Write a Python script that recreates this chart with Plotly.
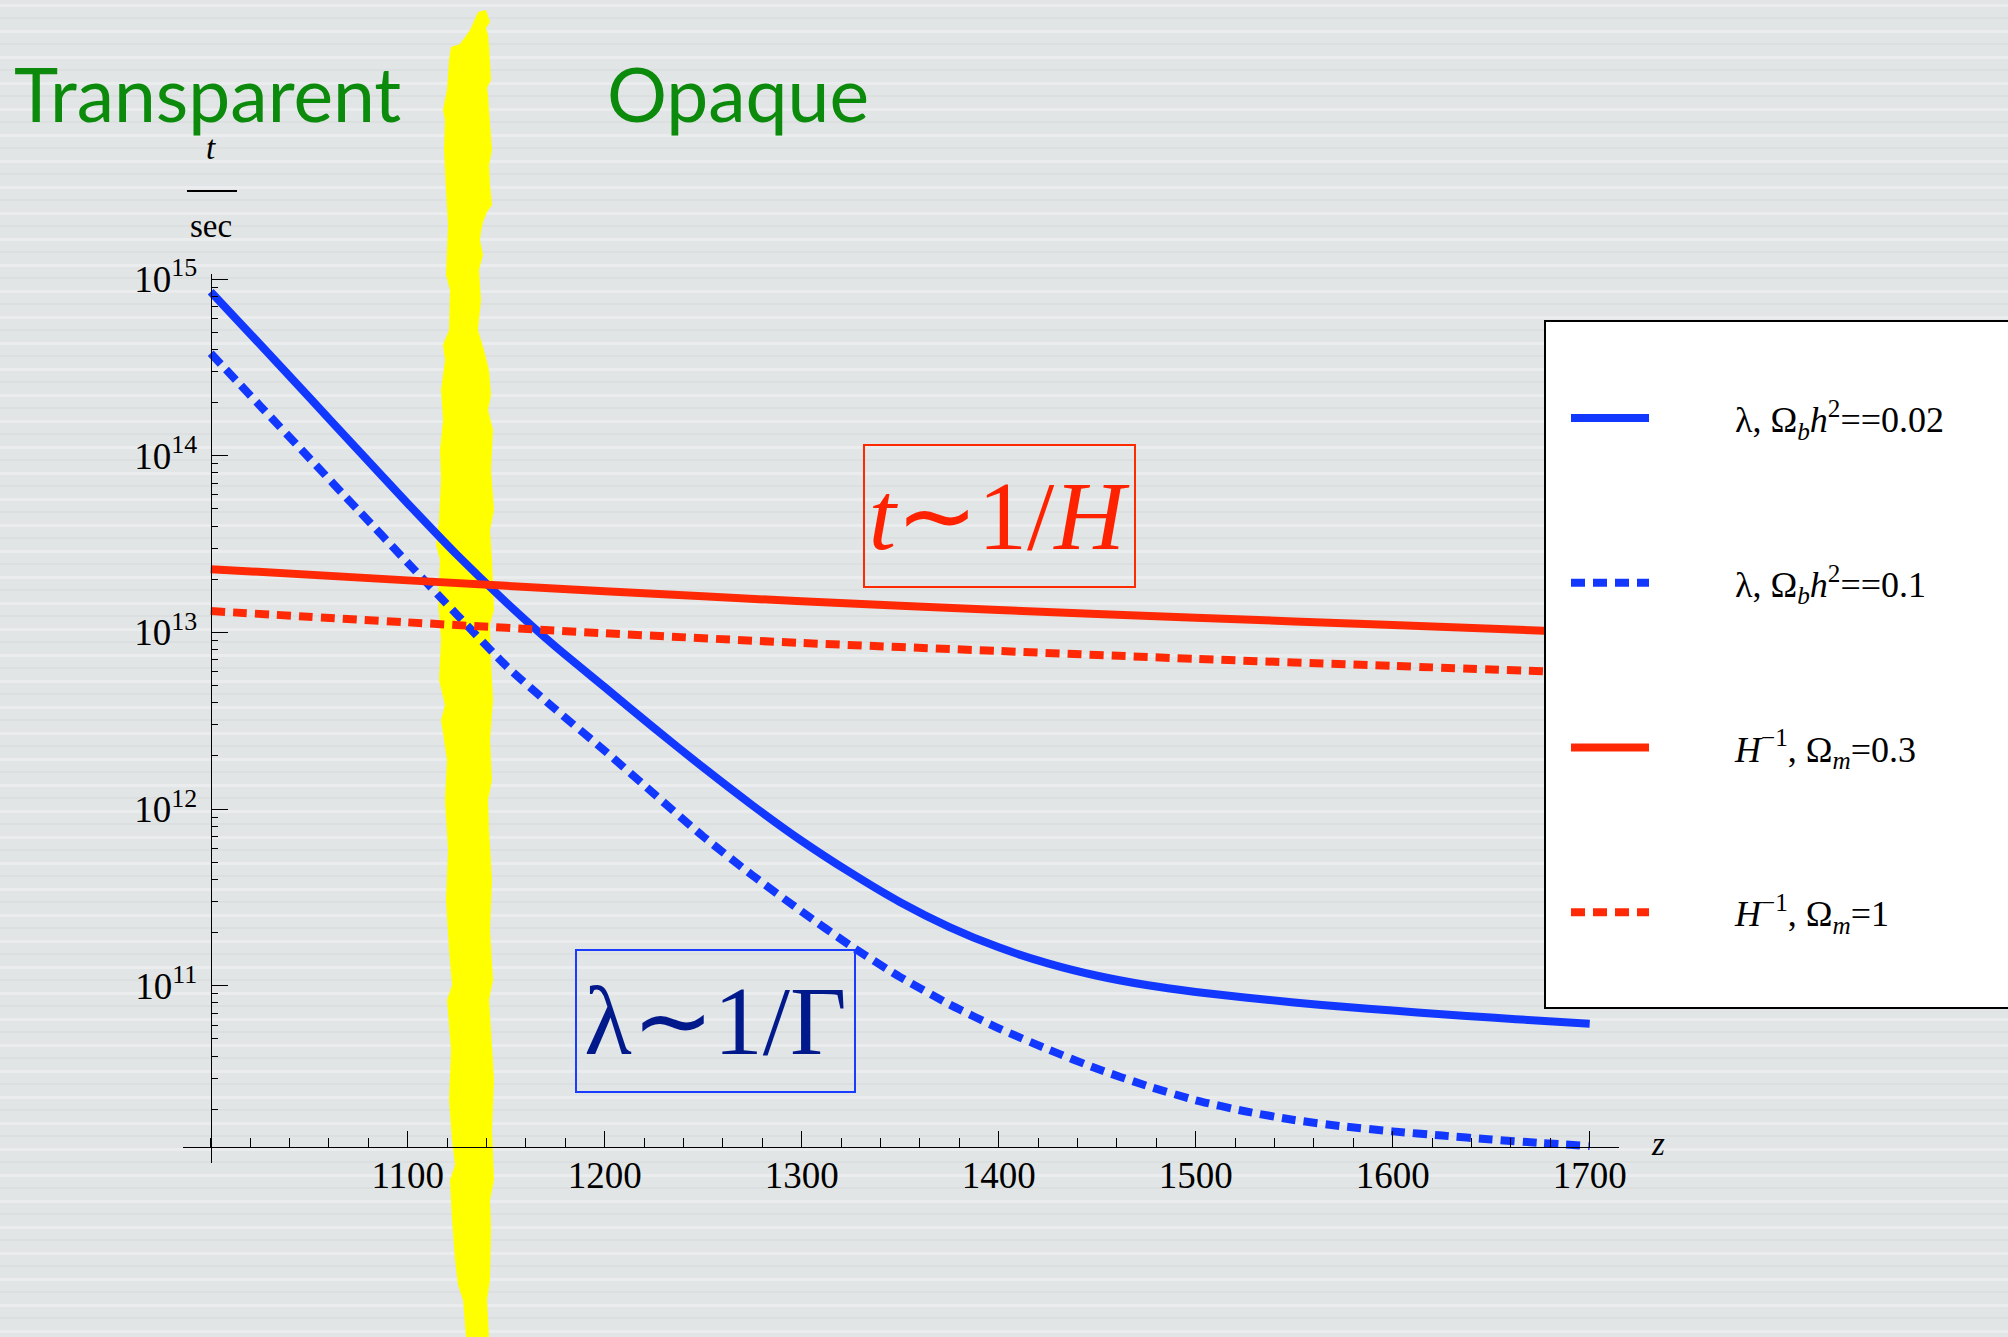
import plotly.graph_objects as go

# ---------------------------------------------------------------------------
# Data: photon mean free time (lambda) and Hubble time (1/H) versus redshift z
# ---------------------------------------------------------------------------
z_lambda = [1000, 1025, 1050, 1075, 1100, 1125, 1150, 1175, 1200, 1225, 1250, 1275,
            1300, 1325, 1350, 1375, 1400, 1425, 1450, 1475, 1500, 1525, 1550, 1575,
            1600, 1625, 1650, 1675, 1700]
mfp_ob002 = [8.47e14, 4.27e14, 2.14e14, 1.07e14, 5.37e13, 2.75e13, 1.48e13, 8.32e12,
             4.90e12, 2.88e12, 1.72e12, 1.05e12, 6.61e11, 4.35e11, 2.97e11, 2.15e11,
             1.65e11, 1.34e11, 1.14e11, 1.01e11, 9.23e10, 8.59e10, 8.04e10, 7.60e10,
             7.24e10, 6.90e10, 6.61e10, 6.34e10, 6.10e10]
mfp_ob01 = [3.80e14, 1.92e14, 9.71e13, 4.90e13, 2.48e13, 1.26e13, 6.46e12, 3.67e12,
            2.14e12, 1.22e12, 7.00e11, 4.22e11, 2.63e11, 1.68e11, 1.12e11, 7.85e10,
            5.75e10, 4.37e10, 3.39e10, 2.72e10, 2.25e10, 1.95e10, 1.74e10, 1.60e10,
            1.50e10, 1.42e10, 1.35e10, 1.29e10, 1.24e10]

z_hubble = [1000, 1100, 1200, 1300, 1400, 1500, 1600, 1700]
hinv_om03 = [2.28e13, 1.97e13, 1.71e13, 1.50e13, 1.34e13, 1.21e13, 1.10e13, 1.00e13]
hinv_om1 = [1.32e13, 1.14e13, 9.89e12, 8.71e12, 7.85e12, 7.08e12, 6.46e12, 5.89e12]

series_names = [
    "λ, Ω<sub><i>b</i></sub><i>h</i><sup>2</sup>==0.02",
    "λ, Ω<sub><i>b</i></sub><i>h</i><sup>2</sup>==0.1",
    "<i>H</i><sup>−1</sup>, Ω<sub><i>m</i></sub>=0.3",
    "<i>H</i><sup>−1</sup>, Ω<sub><i>m</i></sub>=1",
]

x_tick_vals = [1100, 1200, 1300, 1400, 1500, 1600, 1700]
x_tick_text = ["1100", "1200", "1300", "1400", "1500", "1600", "1700"]
y_tick_vals = [1e10, 1e11, 1e12, 1e13, 1e14, 1e15]
y_tick_text = ["", "10<sup>11</sup>", "10<sup>12</sup>", "10<sup>13</sup>",
               "10<sup>14</sup>", "10<sup>15</sup>"]
y_minor_vals = [k * 10.0 ** e for e in range(10, 15) for k in range(2, 10)]

# ---------------------------------------------------------------------------
# Page geometry (pixels) and helpers to place layout items in paper space
# ---------------------------------------------------------------------------
FIG_W, FIG_H = 2008, 1337
PLOT_L, PLOT_R, PLOT_T, PLOT_B = 183, 1619, 274, 1163
ORIGIN_X = 210.7          # pixel column of z = 1000
PX_PER_Z = 1.97           # pixels per unit of z
DECADE_PX = 176.7         # pixels per decade on the time axis
TOP_DECADE_Y = 279        # pixel row of 10^15
XAXIS_Y = 1147            # pixel row where the z axis is drawn


def px_x(x):
    return (x - PLOT_L) / (PLOT_R - PLOT_L)


def px_y(y):
    return (PLOT_B - y) / (PLOT_B - PLOT_T)


x_range = [1000 - (ORIGIN_X - PLOT_L) / PX_PER_Z, 1000 + (PLOT_R - ORIGIN_X) / PX_PER_Z]
y_range = [15 - (PLOT_B - TOP_DECADE_Y) / DECADE_PX, 15 + (TOP_DECADE_Y - PLOT_T) / DECADE_PX]

BLUE = "#1238ff"
RED = "#ff2a05"
GREEN = "#0b8a0b"
SERIF = "Liberation Serif"
LEGEND_PAD = "\u00a0" * 9   # gap between legend key and label

fig = go.Figure()

line_specs = [
    (z_lambda, mfp_ob002, BLUE, "solid", "a"),
    (z_lambda, mfp_ob01, BLUE, "14px,8px", "b"),
    (z_hubble, hinv_om03, RED, "solid", "c"),
    (z_hubble, hinv_om1, RED, "14px,8px", "d"),
]
for (xs, ys, color, dash, grp), name in zip(line_specs, series_names):
    fig.add_trace(go.Scatter(x=xs, y=ys, mode="lines", name=LEGEND_PAD + name,
                             legendgroup=grp,
                             line=dict(color=color, width=8, dash=dash,
                                       shape="spline", smoothing=0.6)))

# ---------------------------------------------------------------------------
# Brushed-metal style background stripes
# ---------------------------------------------------------------------------
shapes = []
light_path = []
dark_path = []
y = 4
while y < FIG_H:
    light_path.append("M{:.5f},{:.5f} H{:.5f} V{:.5f} H{:.5f} Z".format(
        px_x(0), px_y(y), px_x(FIG_W), px_y(y + 3), px_x(0)))
    dark_path.append("M{:.5f},{:.5f} H{:.5f} V{:.5f} H{:.5f} Z".format(
        px_x(0), px_y(y + 13), px_x(FIG_W), px_y(y + 15), px_x(0)))
    y += 26
shapes.append(dict(type="path", xref="paper", yref="paper", layer="below",
                   path=" ".join(light_path), fillcolor="#eaeced", line=dict(width=0)))
shapes.append(dict(type="path", xref="paper", yref="paper", layer="below",
                   path=" ".join(dark_path), fillcolor="#dcdfdf", line=dict(width=0)))

# Yellow brush stroke marking the last-scattering epoch
band_right = [(486, 10), (490, 22), (486, 28), (488, 35), (489, 45), (491, 80), (487, 88),
              (488, 95), (489, 110), (492, 150), (489, 165), (490, 185), (492, 205),
              (487, 212), (483, 222), (481, 232), (480, 240), (483, 255), (479, 270),
              (481, 300), (478, 330), (484, 350), (489, 370), (491, 395), (488, 410),
              (493, 430), (491, 470), (494, 510), (490, 530), (492, 560), (494, 610),
              (490, 625), (491, 660), (493, 700), (490, 740), (492, 780), (488, 800),
              (489, 830), (492, 880), (490, 930), (493, 980), (489, 1000), (491, 1030),
              (494, 1080), (492, 1130), (494, 1180), (490, 1200), (491, 1230),
              (490, 1280), (487, 1300), (489, 1337)]
band_left = [(466, 1337), (463, 1300), (458, 1285), (455, 1260), (452, 1220), (450, 1180),
             (455, 1165), (452, 1140), (449, 1100), (451, 1050), (447, 1000), (452, 985),
             (449, 950), (446, 900), (448, 850), (445, 800), (447, 760), (441, 720),
             (445, 705), (439, 680), (441, 640), (438, 600), (440, 560), (436, 545),
             (439, 520), (441, 480), (440, 450), (443, 420), (441, 390), (445, 360),
             (443, 345), (449, 330), (450, 290), (446, 275), (447, 250), (448, 225),
             (446, 190), (444, 150), (445, 120), (443, 110), (447, 90), (449, 60),
             (451, 47), (460, 44), (470, 30), (478, 12)]
band_pts = band_right + band_left
band_path = "M" + " L".join("{:.5f},{:.5f}".format(px_x(a), px_y(b)) for a, b in band_pts) + " Z"
shapes.append(dict(type="path", xref="paper", yref="paper", layer="below",
                   path=band_path, fillcolor="#ffff00", line=dict(width=0)))

# Fraction bar of the t/sec axis label
shapes.append(dict(type="line", xref="paper", yref="paper", x0=px_x(187), x1=px_x(237),
                   y0=px_y(191), y1=px_y(191), line=dict(color="black", width=2)))

# Legend frame (extends past the right edge of the page)
shapes.append(dict(type="rect", xref="paper", yref="paper", layer="above",
                   x0=px_x(1545), x1=px_x(2030), y0=px_y(1008), y1=px_y(321),
                   fillcolor="white", line=dict(color="black", width=2)))

# ---------------------------------------------------------------------------
# Text
# ---------------------------------------------------------------------------
annotations = [
    dict(text="Transparent", x=px_x(207), y=px_y(93), font=dict(family="Lato", size=75, color=GREEN)),
    dict(text="Opaque", x=px_x(738), y=px_y(93), font=dict(family="Lato", size=75, color=GREEN)),
    dict(text="<i>t</i>", x=px_x(211), y=px_y(148), font=dict(family=SERIF, size=33, color="black")),
    dict(text="sec", x=px_x(211), y=px_y(226), font=dict(family=SERIF, size=33, color="black")),
    dict(text="<i>z</i>", x=px_x(1658), y=px_y(1144), font=dict(family=SERIF, size=33, color="black")),
    dict(text="<i>t</i>∼1/<i>H</i>", x=px_x(999.5), y=px_y(516),
         font=dict(family=SERIF, size=98, color="#ff2200"),
         bordercolor="#ff2a00", borderwidth=2, borderpad=0, width=269, height=140),
    dict(text="λ∼1/Γ", x=px_x(715.3), y=px_y(1021),
         font=dict(family=SERIF, size=98, color="#02198c"),
         bordercolor="#1a3cff", borderwidth=2, borderpad=0, width=277, height=140),
]
for a in annotations:
    a.update(xref="paper", yref="paper", showarrow=False, xanchor="center", yanchor="middle")

axis_font = dict(family=SERIF, size=37, color="black")

fig.update_layout(
    width=FIG_W, height=FIG_H,
    margin=dict(l=PLOT_L, r=FIG_W - PLOT_R, t=PLOT_T, b=FIG_H - PLOT_B, pad=0, autoexpand=False),
    paper_bgcolor="#e2e5e5",
    plot_bgcolor="rgba(0,0,0,0)",
    shapes=shapes,
    annotations=annotations,
    showlegend=True,
    legend=dict(x=px_x(1566), y=px_y(388), xanchor="left", yanchor="top",
                bgcolor="rgba(0,0,0,0)", borderwidth=0, traceorder="grouped",
                tracegroupgap=115, itemwidth=78,
                font=dict(family=SERIF, size=36, color="black")),
    xaxis=dict(range=x_range, anchor="free", position=px_y(XAXIS_Y), side="bottom",
               showline=True, linecolor="black", linewidth=1.3, zeroline=False, showgrid=False,
               ticks="inside", ticklen=16, tickwidth=1.3, tickcolor="black",
               tickmode="array", tickvals=x_tick_vals, ticktext=x_tick_text,
               tickfont=axis_font, ticklabelstandoff=-5,
               minor=dict(ticks="inside", ticklen=9, tickwidth=1.3, tickcolor="black",
                          tickmode="linear", tick0=1000, dtick=20, showgrid=False)),
    yaxis=dict(type="log", range=y_range, anchor="free", position=px_x(ORIGIN_X), side="left",
               showline=True, linecolor="black", linewidth=1.3, zeroline=False, showgrid=False,
               ticks="inside", ticklen=16, tickwidth=1.3, tickcolor="black",
               tickmode="array", tickvals=y_tick_vals, ticktext=y_tick_text,
               tickfont=axis_font, ticklabelstandoff=6,
               minor=dict(ticks="inside", ticklen=6, tickwidth=1.3, tickcolor="black",
                          tickmode="array", tickvals=y_minor_vals, showgrid=False)),
)

fig.write_html("out.html")
